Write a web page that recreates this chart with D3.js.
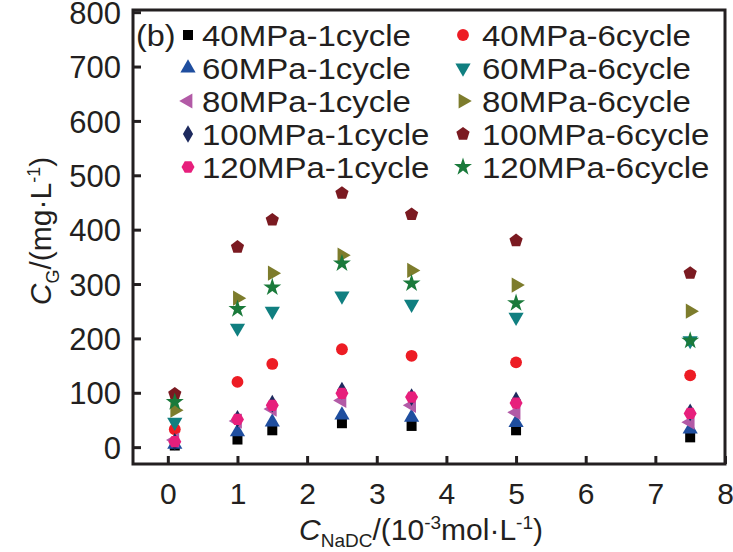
<!DOCTYPE html>
<html>
<head>
<meta charset="utf-8">
<script src="https://cdn.jsdelivr.net/npm/d3@7"></script>
<style>
  body { margin: 0; background: #fff; }
  text { font-family: Arial, "Liberation Sans", sans-serif; fill: #231f20; }
</style>
</head>
<body>
<div id="chart"></div>
<script>
// NaDC concentration (10^-3 mol/L)
const xs = [0.1, 1, 1.5, 2.5, 3.5, 5, 7.5];

// C_G (mg/L) per pressure / cycle
const p40c1  = [3, 14, 31, 44, 39, 31, 18];
const p40c6  = [33, 120, 153, 180, 168, 156, 132];
const p60c1  = [5, 28, 46, 59, 55, 45, 33];
const p60c6  = [46, 219, 250, 278, 263, 239, 196];
const p80c1  = [13, 48, 70, 86, 77, 64, 46];
const p80c6  = [68, 274, 320, 353, 325, 298, 250];
const p100c1 = [10, 52, 80, 104, 92, 86, 64];
const p100c6 = [98, 368, 418, 467, 428, 380, 320];
const p120c1 = [10, 51, 77, 99, 92, 81, 62];
const p120c6 = [83, 254, 294, 338, 301, 265, 196];

const seriesNames = ['40MPa-1cycle', '40MPa-6cycle', '60MPa-1cycle', '60MPa-6cycle',
  '80MPa-1cycle', '80MPa-6cycle', '100MPa-1cycle', '100MPa-6cycle',
  '120MPa-1cycle', '120MPa-6cycle'];
const seriesValues = [p40c1, p40c6, p60c1, p60c6, p80c1, p80c6, p100c1, p100c6, p120c1, p120c6];

const xTicks = [0, 1, 2, 3, 4, 5, 6, 7, 8];
const yTicks = [0, 100, 200, 300, 400, 500, 600, 700, 800];

const colors = ['#000000', '#ed1c24', '#1f4e9f', '#107f80', '#b25aa6',
  '#7d7c2c', '#1d2a5e', '#7b1a21', '#e71f7c', '#1a7a3b'];

// custom polygon symbol
function polygon(n, rot) {
  return {
    draw(ctx, size) {
      const r = Math.sqrt(size / (0.5 * n * Math.sin(2 * Math.PI / n)));
      for (let i = 0; i < n; i++) {
        const a = rot + i * 2 * Math.PI / n;
        const px = r * Math.sin(a), py = -r * Math.cos(a);
        if (i === 0) ctx.moveTo(px, py); else ctx.lineTo(px, py);
      }
      ctx.closePath();
    }
  };
}
const shapes = [
  {type: d3.symbolSquare, size: 100, rot: 0},
  {type: d3.symbolCircle, size: 110, rot: 0},
  {type: d3.symbolTriangle, size: 100, rot: 0},
  {type: d3.symbolTriangle, size: 100, rot: 180},
  {type: d3.symbolTriangle, size: 100, rot: 270},
  {type: d3.symbolTriangle, size: 100, rot: 90},
  {type: d3.symbolDiamond, size: 90, rot: 0},
  {type: polygon(5, 0), size: 115, rot: 0},
  {type: polygon(6, Math.PI / 6), size: 110, rot: 0},
  {type: d3.symbolStar, size: 100, rot: 0}
];

const W = 733, H = 552;
const plot = {left: 133, right: 725, top: 10, bottom: 464};

const svg = d3.select('#chart').append('svg')
  .attr('width', W).attr('height', H);

const x = d3.scaleLinear().domain([-0.5, 8]).range([plot.left, plot.right]);
const y = d3.scaleLinear().domain([-31, 804]).range([plot.bottom, plot.top]);

const ink = '#231f20';

// axes with inward ticks
const gx = svg.append('g')
  .attr('transform', `translate(0, ${plot.bottom})`)
  .call(d3.axisBottom(x).tickValues(xTicks).tickSize(-8).tickPadding(19).tickFormat(d3.format('d')));
const gy = svg.append('g')
  .attr('transform', `translate(${plot.left}, 0)`)
  .call(d3.axisLeft(y).tickValues(yTicks).tickSize(-8).tickPadding(12).tickFormat(d3.format('d')));
[gx, gy].forEach(g => {
  g.select('.domain').remove();
  g.selectAll('.tick line').attr('stroke', ink).attr('stroke-width', 3);
  g.selectAll('.tick text').attr('font-size', 31).attr('fill', ink)
    .attr('font-family', 'Arial, "Liberation Sans", sans-serif');
});
gx.selectAll('.tick text').attr('font-size', 30).attr('dy', '0.71em');
gy.selectAll('.tick text').attr('dy', '0.36em');

// frame
svg.append('rect')
  .attr('x', plot.left).attr('y', plot.top)
  .attr('width', plot.right - plot.left).attr('height', plot.bottom - plot.top)
  .attr('fill', 'none').attr('stroke', ink).attr('stroke-width', 3);

// points
const gp = svg.append('g');
seriesValues.forEach((vals, si) => {
  const sh = shapes[si];
  const sym = d3.symbol().type(sh.type).size(sh.size);
  gp.selectAll(null)
    .data(vals.map((v, i) => [xs[i], v]))
    .enter().append('path')
    .attr('d', sym)
    .attr('fill', colors[si])
    .attr('transform', d => `translate(${x(d[0])}, ${y(d[1])}) rotate(${sh.rot})`);
});

// legend (text slightly widened like the original)
const leg = svg.append('g');
leg.append('text')
  .attr('transform', 'translate(136, 35) scale(1.08, 1)').attr('dy', '0.36em')
  .attr('font-size', 30).text('(b)');
seriesNames.forEach((name, si) => {
  const col = si % 2, row = Math.floor(si / 2);
  const mx = col === 0 ? 188 : 463;
  const tx = col === 0 ? 202 : 482;
  const my = 35 + row * 33;
  const sh = shapes[si];
  leg.append('path')
    .attr('d', d3.symbol().type(sh.type).size(sh.size)())
    .attr('fill', colors[si])
    .attr('transform', `translate(${mx}, ${my}) rotate(${sh.rot})`);
  leg.append('text')
    .attr('transform', `translate(${tx}, ${my}) scale(1.1, 1)`).attr('dy', '0.36em')
    .attr('font-size', 30).text(name);
});

// axis titles
const yt = svg.append('text')
  .attr('transform', `translate(51, 231) rotate(-90)`)
  .attr('text-anchor', 'middle').attr('font-size', 30);
yt.append('tspan').attr('font-style', 'italic').text('C');
yt.append('tspan').attr('font-size', 18).attr('dy', 8).text('G');
yt.append('tspan').attr('dy', -8).text('/(mg·L');
yt.append('tspan').attr('font-size', 18).attr('dy', -11).text('-1');
yt.append('tspan').attr('dy', 11).text(')');

const xt = svg.append('text')
  .attr('x', 421).attr('y', 540)
  .attr('text-anchor', 'middle').attr('font-size', 30);
xt.append('tspan').attr('font-style', 'italic').text('C');
xt.append('tspan').attr('font-size', 19).attr('dy', 7).text('NaDC');
xt.append('tspan').attr('dy', -7).text('/(10');
xt.append('tspan').attr('font-size', 19).attr('dy', -11).text('-3');
xt.append('tspan').attr('dy', 11).text('mol·L');
xt.append('tspan').attr('font-size', 19).attr('dy', -11).text('-1');
xt.append('tspan').attr('dy', 11).text(')');
</script>
</body>
</html>
